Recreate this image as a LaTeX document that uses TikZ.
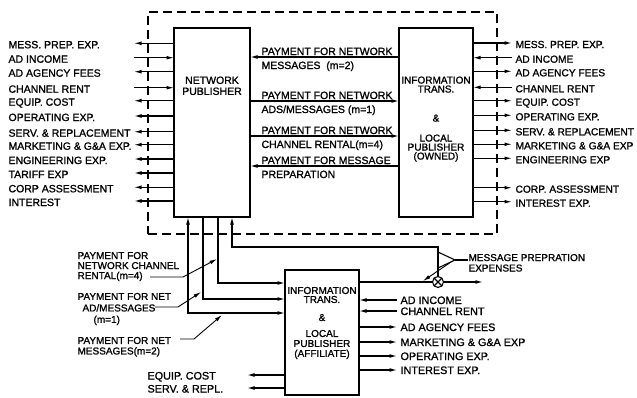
\documentclass[tikz,border=0pt]{standalone}
\usepackage{fontspec}
\setmainfont{Liberation Sans}[FakeBold=1.2]
\usetikzlibrary{arrows.meta}
\begin{document}
\begin{tikzpicture}[x=1pt,y=-1pt,line width=1.1pt,
  >={Latex[length=7.5pt,width=3.8pt]},
  box/.style={draw,line width=1.2pt,inner sep=0pt,outer sep=0pt},
  lbl/.style={font=\fontsize{10.5}{12}\selectfont,inner sep=0pt,anchor=base west},
  rlbl/.style={font=\fontsize{10.2}{12}\selectfont,inner sep=0pt,anchor=base west},
  alb/.style={font=\fontsize{10.8}{12}\selectfont,inner sep=0pt,anchor=base west},
  btxt/.style={font=\fontsize{10}{9}\selectfont,align=center,inner sep=0pt,anchor=north},
  mlbl/.style={font=\fontsize{10.5}{12}\selectfont,inner sep=0pt,anchor=base west},
  plbl/.style={font=\fontsize{10}{10}\selectfont,align=left,inner sep=0pt,anchor=north west},
  leader/.style={line width=0.9pt},
]
\useasboundingbox (0,0) rectangle (637,397);

% boxes
\node[draw,dash pattern=on 9pt off 5pt,line width=1.2pt,minimum width=349pt,minimum height=222pt,inner sep=0pt,outer sep=0pt] (DB) at (322.5,123) {};
\node[box,minimum width=76pt,minimum height=189pt] (NP) at (212,122.5) {};
\node[box,minimum width=74pt,minimum height=189pt] (OW) at (436,122.5) {};
\node[box,minimum width=74pt,minimum height=125pt] (AF) at (322,332.5) {};

\node[btxt,font=\fontsize{10.5}{11}\selectfont] (NPt) at (212,76) {NETWORK\\PUBLISHER};
\node[btxt] (OWt) at (436,76) {INFORMATION\\TRANS.\\[20pt]\&\\[11pt]LOCAL\\PUBLISHER\\(OWNED)};
\node[btxt] (AFt) at (322,286.4) {INFORMATION\\TRANS.\\[9pt]\&\\[7pt]LOCAL\\[1pt]PUBLISHER\\[1pt](AFFILIATE)};

% left side of network publisher
\foreach \y/\t/\d [count=\i] in {43.3/{MESS. PREP. EXP.}/1, 57.7/{AD INCOME}/0, 71.7/{AD AGENCY FEES}/1, 87.7/{CHANNEL RENT}/0, 100.7/{EQUIP. COST}/1, 116/{OPERATING EXP.}/1, 131.7/{SERV. \& REPLACEMENT}/1, 144.7/{MARKETING \& G\&A EXP.}/1, 159/{ENGINEERING EXP.}/1, 173/{TARIFF EXP}/1, 187.3/{CORP ASSESSMENT}/1, 201/{INTEREST}/1}{
  \coordinate (L\i) at (134,\y);
  \node[lbl] (Lt\i) at (8,\y+5) {\t};
  \ifnum\d=1 \draw[->] (NP.west |- L\i) -- (L\i); \else \draw[->] (L\i) -- (NP.west |- L\i); \fi
}

% right side of owned publisher
\foreach \y/\t/\d [count=\i] in {43/{MESS. PREP. EXP.}/1, 57.7/{AD INCOME}/0, 71.3/{AD AGENCY FEES}/1, 87.3/{CHANNEL RENT}/0, 100.7/{EQUIP. COST}/1, 115.3/{OPERATING EXP.}/1, 130.3/{SERV. \& REPLACEMENT}/1, 144.3/{MARKETING \& G\&A EXP}/1, 158.3/{ENGINEERING EXP}/1, 187.7/{CORP. ASSESSMENT}/1, 201.7/{INTEREST EXP.}/1}{
  \coordinate (R\i) at (512,\y);
  \node[rlbl] (Rt\i) at (515,\y+5) {\t};
  \ifnum\d=1 \draw[->] (OW.east |- R\i) -- (R\i); \else \draw[->] (R\i) -- (OW.east |- R\i); \fi
}

% middle payments
\coordinate (m1) at (300,57);
\coordinate (m2) at (300,101);
\coordinate (m3) at (300,136);
\coordinate (m4) at (300,166);
\draw[->] (OW.west |- m1) -- (NP.east |- m1);
\draw[->] (NP.east |- m2) -- (OW.west |- m2);
\draw[->] (NP.east |- m3) -- (OW.west |- m3);
\draw[->] (OW.west |- m4) -- (NP.east |- m4);
\node[mlbl] (ma1) at (261,55) {PAYMENT FOR NETWORK};
\node[mlbl] (mb1) at (261,69) {MESSAGES\ \ (m=2)};
\node[mlbl] (ma2) at (261,99) {PAYMENT FOR NETWORK};
\node[mlbl] (mb2) at (261,113) {ADS/MESSAGES (m=1)};
\node[mlbl] (ma3) at (261,134) {PAYMENT FOR NETWORK};
\node[mlbl] (mb3) at (261,148) {CHANNEL RENTAL(m=4)};
\node[mlbl] (ma4) at (261,164) {PAYMENT FOR MESSAGE};
\node[mlbl] (mb4) at (261,178) {PREPARATION};

% bottom bus
\coordinate (b1) at (188,313);
\coordinate (b2) at (203,299);
\coordinate (b3) at (218,283);
\coordinate (b4) at (232,247);
\draw[<->] (NP.south -| b1) -- (b1) -- (AF.west |- b1);
\draw[->] (NP.south -| b2) -- (b2) -- (AF.west |- b2);
\draw[->] (NP.south -| b3) -- (b3) -- (AF.west |- b3);
\node[draw,circle,minimum size=11pt,inner sep=0pt,outer sep=0pt] (MX) at (438,282) {};
\draw (MX.north west) -- (MX.south east) (MX.north east) -- (MX.south west);
\draw[<-] (NP.south -| b4) -- (b4) -| (MX.north);
\draw (AF.east |- MX.center) -- (MX.west);
\coordinate (mo) at (483,282);
\draw[->] (MX.east) -- (mo);
\coordinate (ta) at (438,252);
\coordinate (tb) at (455,260);
\coordinate (tc) at (438,268);
\draw (ta) -- (tb) -- (tc);
\node[plbl,font=\fontsize{10}{10.5}\selectfont] (MP) at (468,253.5) {MESSAGE PREPRATION\\EXPENSES};
\draw (tb) -- (tb -| MP.west);
\coordinate (d1) at (451,262);
\coordinate (d2) at (423,281);
\draw[->,leader] (d1) -- (d2);

% bottom-left payment labels
\node[plbl] (PL1) at (77,251.5) {PAYMENT FOR\\NETWORK CHANNEL\\RENTAL(m=4)};
\coordinate (p1a) at (150,277);
\coordinate (p1b) at (183,277);
\coordinate (p1c) at (217,259);
\draw[->,leader] (p1a) -- (p1b) -- (p1c);
\node[plbl,font=\fontsize{10}{11.5}\selectfont] (PL2) at (77,292.4) {PAYMENT FOR NET\\\hspace*{5pt}AD/MESSAGES\\\hspace*{16pt}(m=1)};
\coordinate (p2a) at (155,307);
\coordinate (p2b) at (178,307);
\coordinate (p2c) at (201,292);
\draw[->,leader] (p2a) -- (p2b) -- (p2c);
\node[plbl,font=\fontsize{10}{10.5}\selectfont] (PL3) at (77,336.4) {PAYMENT FOR NET\\MESSAGES(m=2)};
\coordinate (p3a) at (180,339);
\coordinate (p3b) at (194,339);
\coordinate (p3c) at (222,315);
\draw[->,leader] (p3a) -- (p3b) -- (p3c);

% affiliate left
\coordinate (e1) at (247,375);
\coordinate (e2) at (247,388);
\draw[->] (AF.west |- e1) -- (e1);
\draw[->] (AF.west |- e2) -- (e2);
\node[alb] (et1) at (147,379.5) {EQUIP. COST};
\node[alb] (et2) at (147,392.5) {SERV. \& REPL.};

% affiliate right
\foreach \y/\t/\d [count=\i] in {300/{AD INCOME}/0, 311/{CHANNEL RENT}/0, 327/{AD AGENCY FEES}/1, 342/{MARKETING \& G\&A EXP}/1, 356/{OPERATING EXP.}/1, 370/{INTEREST EXP.}/1}{
  \coordinate (A\i) at (397,\y);
  \node[alb] (At\i) at (400,\y+4) {\t};
  \ifnum\d=1 \draw[->] (AF.east |- A\i) -- (A\i); \else \draw[->] (A\i) -- (AF.east |- A\i); \fi
}
\end{tikzpicture}
\end{document}
